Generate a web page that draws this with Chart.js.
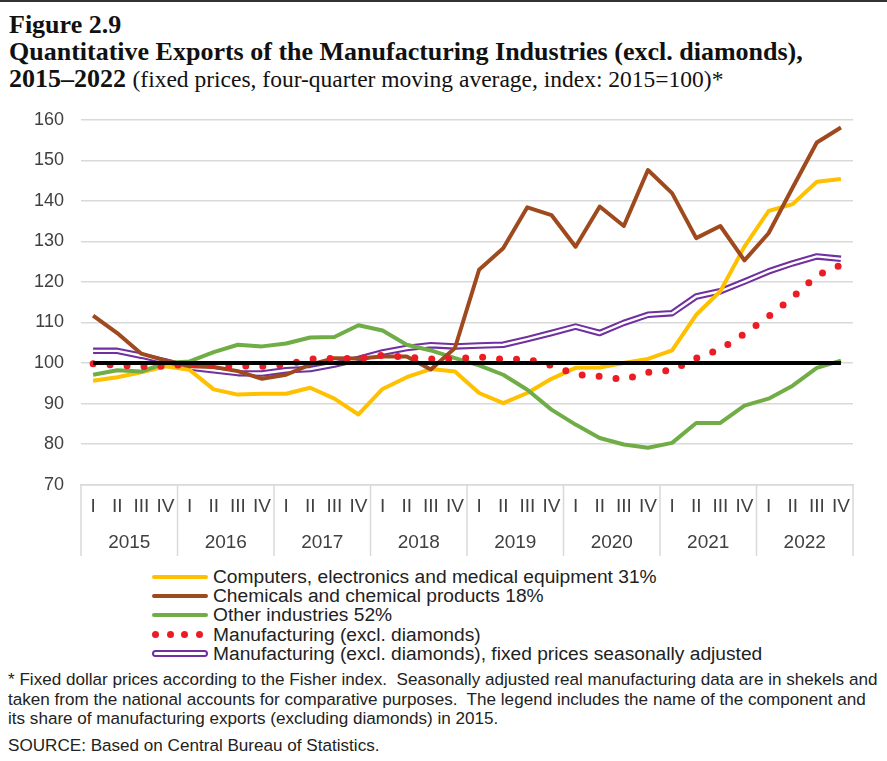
<!DOCTYPE html>
<html lang="en">
  <head>
    <meta charset="UTF-8" />
    <title>Figure 2.9</title>
    <style>
      body {
        margin: 0;
        width: 887px;
        height: 761px;
        position: relative;
        overflow: hidden;
        background: #fff;
        font-family: "Liberation Sans", Arial, sans-serif;
        color: #222;
      }
      .topline {
        position: absolute;
        left: 0;
        top: 0;
        width: 887px;
        height: 2px;
        background: #333;
      }
      .title {
        position: absolute;
        left: 9px;
        top: 11px;
        font-family: "Liberation Serif", "Times New Roman", serif;
        font-weight: bold;
        font-size: 26px;
        line-height: 27px;
        color: #111;
        white-space: nowrap;
      }
      .title .sub {
        font-weight: normal;
        font-size: 23.5px;
      }
      .chart-box {
        position: absolute;
        left: 0;
        top: 92px;
        width: 887px;
        height: 466px;
      }
      .legend {
        position: absolute;
        left: 152px;
        top: 567px;
        font-size: 19.2px;
        line-height: 19.2px;
      }
      .legend .row {
        display: flex;
        align-items: center;
        height: 19.2px;
        white-space: nowrap;
      }
      .sym {
        width: 56px;
        height: 4px;
        border-radius: 2px;
        margin-right: 5px;
      }
      .sym.dots {
        height: 7px;
        border-radius: 0;
        display: flex;
        justify-content: space-between;
        width: 51px;
        margin-right: 10px;
      }
      .sym.dots span {
        width: 7px;
        height: 7px;
        border-radius: 50%;
      }
      .sym.double {
        height: 3px;
        border-radius: 4px;
        background: #fff;
      }
      .note {
        position: absolute;
        left: 8px;
        top: 670px;
        font-size: 17.1px;
        line-height: 19.5px;
        white-space: nowrap;
        color: #222;
      }
      .source {
        position: absolute;
        left: 8px;
        top: 736px;
        font-size: 17.1px;
        line-height: 19px;
        color: #222;
      }
    </style>
  </head>
  <body>
    <div class="topline"></div>
    <div class="title">
      Figure 2.9<br />
      Quantitative Exports of the Manufacturing Industries (excl. diamonds),<br />
      2015–2022 <span class="sub">(fixed prices, four-quarter moving average, index: 2015=100)*</span>
    </div>

    <div class="chart-box"><canvas id="exportsChart"></canvas></div>

    <div class="legend" id="legend"></div>

    <div class="note">
      * Fixed dollar prices according to the Fisher index.&nbsp; Seasonally adjusted real manufacturing data are in shekels and<br />
      taken from the national accounts for comparative purposes.&nbsp; The legend includes the name of the component and<br />
      its share of manufacturing exports (excluding diamonds) in 2015.
    </div>
    <div class="source">SOURCE: Based on Central Bureau of Statistics.</div>

    <script src="https://cdn.jsdelivr.net/npm/chart.js"></script>
    <script>
      // quarters 2015 I .. 2022 IV
      const quarters = [
        "I", "II", "III", "IV", "I", "II", "III", "IV",
        "I", "II", "III", "IV", "I", "II", "III", "IV",
        "I", "II", "III", "IV", "I", "II", "III", "IV",
        "I", "II", "III", "IV", "I", "II", "III", "IV",
      ];
      const years = ["2015", "2016", "2017", "2018", "2019", "2020", "2021", "2022"];

      const computers = [
        95.6, 96.5, 97.7, 99.2, 98.3, 93.5, 92.2, 92.4,
        92.4, 93.9, 91.2, 87.3, 93.6, 96.5, 98.5, 97.9,
        92.6, 90.1, 92.6, 96.1, 98.8, 98.9, 100.0, 101.0,
        103.1, 111.9, 117.7, 128.7, 137.5, 139.2, 144.7, 145.4,
      ];
      const chemicals = [
        111.7, 107.4, 102.3, 100.6, 99.2, 99.0, 98.0, 96.1,
        97.1, 99.6, 101.2, 101.1, 101.6, 101.6, 98.4, 103.7,
        123.0, 128.3, 138.4, 136.5, 128.7, 138.6, 133.8, 147.6,
        141.9, 130.8, 133.8, 125.3, 132.0, 143.3, 154.4, 158.1,
      ];
      const other = [
        97.1, 98.2, 97.9, 100.0, 100.4, 102.7, 104.5, 104.1,
        104.8, 106.3, 106.4, 109.3, 108.0, 104.5, 103.1, 101.2,
        99.4, 97.1, 93.4, 88.5, 84.8, 81.5, 79.9, 79.1,
        80.3, 85.2, 85.2, 89.5, 91.2, 94.4, 98.8, 100.6,
      ];
      const manufacturing = [
        99.8, 99.5, 99.1, 99.2, 99.8, 99.4, 99.3, 99.2,
        99.6, 101.0, 101.1, 101.1, 101.9, 101.4, 101.0, 101.0,
        101.5, 100.9, 100.9, 99.4, 97.2, 96.7, 95.9, 97.7,
        98.2, 101.2, 103.4, 107.2, 111.5, 116.2, 121.6, 124.2,
      ];
      const seasonal = [
        103.0, 103.0, 101.8, 100.4, 98.9, 98.2, 97.5, 97.4,
        98.2, 98.5, 99.6, 101.0, 102.6, 103.7, 104.4, 104.1,
        104.3, 104.5, 105.9, 107.4, 109.0, 107.4, 109.9, 111.9,
        112.3, 116.4, 117.7, 120.1, 122.6, 124.6, 126.3, 125.7,
      ];
      // index level 100 reference line
      const baseline = [
        100, 100, 100, 100, 100, 100, 100, 100,
        100, 100, 100, 100, 100, 100, 100, 100,
        100, 100, 100, 100, 100, 100, 100, 100,
        100, 100, 100, 100, 100, 100, 100, 100,
      ];

      const names = [
        "Computers, electronics and medical equipment 31%",
        "Chemicals and chemical products 18%",
        "Other industries 52%",
        "Manufacturing (excl. diamonds)",
        "Manufacturing (excl. diamonds), fixed prices seasonally adjusted",
      ];
      const colors = ["#FFC000", "#9E4A1E", "#70AD47", "#ED1C24", "#7030A0"];

      const fontFamily = "'Liberation Sans', Arial, sans-serif";
      const axisGray = "#d9d9d9";
      const textGray = "#404040";

      const line = (data, color, width, order) => ({
        data: data,
        borderColor: color,
        borderWidth: width,
        pointRadius: 0,
        tension: 0,
        fill: false,
        borderJoinStyle: "round",
        order: order,
      });

      const datasets = [
        line(baseline, "#000000", 4, 0),
        Object.assign(line(manufacturing, colors[3], 7, 1), {
          borderDash: [0, 17],
          borderCapStyle: "round",
        }),
        line(chemicals, colors[1], 4, 2),
        line(other, colors[2], 4, 3),
        line(computers, colors[0], 4, 4),
        line(seasonal, "#ffffff", 2.4, 5), // hollow centre of the double line
        line(seasonal, colors[4], 6.5, 6),
      ];

      // vertical separators between the years, below the plot
      const yearDividers = {
        id: "yearDividers",
        afterDraw(chart) {
          const s = chart.scales.x2;
          const step = s.getPixelForTick(1) - s.getPixelForTick(0);
          const ctx = chart.ctx;
          ctx.save();
          ctx.strokeStyle = axisGray;
          ctx.lineWidth = 1.5;
          for (let i = 0; i <= years.length; i++) {
            const x = s.getPixelForTick(0) - step / 2 + step * i;
            ctx.beginPath();
            ctx.moveTo(x, chart.chartArea.bottom);
            ctx.lineTo(x, s.bottom);
            ctx.stroke();
          }
          ctx.restore();
        },
      };

      new Chart(document.getElementById("exportsChart"), {
        type: "line",
        data: { labels: quarters, datasets: datasets },
        plugins: [yearDividers],
        options: {
          responsive: true,
          maintainAspectRatio: false,
          animation: false,
          layout: { padding: { top: 0, right: 34, bottom: 2, left: 17 } },
          plugins: { legend: { display: false }, tooltip: { enabled: false } },
          scales: {
            y: {
              min: 70,
              max: 160,
              ticks: {
                stepSize: 10,
                padding: 17,
                color: textGray,
                font: { size: 18, family: fontFamily },
              },
              grid: { color: axisGray, lineWidth: 1.5, drawTicks: false },
              border: { display: false },
            },
            x: {
              type: "category",
              offset: true,
              weight: 0,
              grid: { display: false, drawTicks: false },
              border: { display: true, color: axisGray, width: 1.5 },
              ticks: {
                autoSkip: false,
                maxRotation: 0,
                padding: 10.6,
                color: textGray,
                font: { size: 19, family: fontFamily },
              },
            },
            x2: {
              type: "category",
              axis: "x",
              position: "bottom",
              labels: years,
              offset: true,
              weight: 1,
              grid: { display: false, drawTicks: false },
              border: { display: false },
              ticks: {
                autoSkip: false,
                maxRotation: 0,
                padding: 2.3,
                color: textGray,
                font: { size: 19, family: fontFamily },
              },
            },
          },
        },
      });

      // legend below the chart
      const legend = document.getElementById("legend");
      names.forEach((name, i) => {
        const row = document.createElement("div");
        row.className = "row";
        const sym = document.createElement("div");
        sym.className = "sym";
        if (i === 3) {
          sym.classList.add("dots");
          for (let k = 0; k < 4; k++) {
            const d = document.createElement("span");
            d.style.background = colors[i];
            sym.appendChild(d);
          }
        } else if (i === 4) {
          sym.classList.add("double");
          sym.style.border = "2px solid " + colors[i];
          sym.style.width = "52px";
        } else {
          sym.style.background = colors[i];
        }
        row.appendChild(sym);
        row.appendChild(document.createTextNode(name));
        legend.appendChild(row);
      });
    </script>
  </body>
</html>
